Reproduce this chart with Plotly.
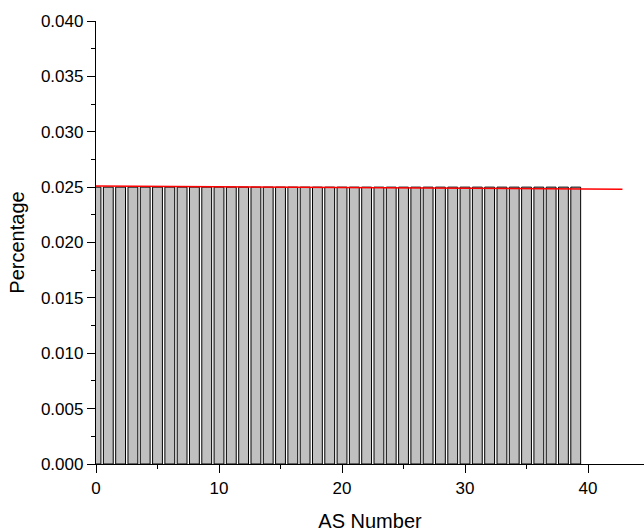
import plotly.graph_objects as go

# AS numbers and the share of each
as_number = [0, 1, 2, 3, 4, 5, 6, 7, 8, 9,
             10, 11, 12, 13, 14, 15, 16, 17, 18, 19,
             20, 21, 22, 23, 24, 25, 26, 27, 28, 29,
             30, 31, 32, 33, 34, 35, 36, 37, 38, 39]
percentage = [0.025, 0.025, 0.025, 0.025, 0.025, 0.025, 0.025, 0.025, 0.025, 0.025,
              0.025, 0.025, 0.025, 0.025, 0.025, 0.025, 0.025, 0.025, 0.025, 0.025,
              0.025, 0.025, 0.025, 0.025, 0.025, 0.025, 0.025, 0.025, 0.025, 0.025,
              0.025, 0.025, 0.025, 0.025, 0.025, 0.025, 0.025, 0.025, 0.025, 0.025]

# fitted trend line end points
fit_x = [0, 42.8]
fit_y = [0.02511, 0.02481]

x_ticks = [0, 10, 20, 30, 40]
y_ticks = [0.000, 0.005, 0.010, 0.015, 0.020, 0.025, 0.030, 0.035, 0.040]

fig = go.Figure()
fig.add_trace(go.Bar(
    x=as_number, y=percentage, width=0.8,
    marker=dict(color="#c0c0c0", line=dict(color="black", width=1)),
    showlegend=False,
))
fig.add_trace(go.Scatter(
    x=fit_x, y=fit_y, mode="lines",
    line=dict(color="#ff0000", width=1.5),
    showlegend=False,
))

family = "Liberation Sans, Arial, sans-serif"
fig.update_layout(
    width=644, height=532,
    margin=dict(l=96, r=0, t=21, b=68),
    plot_bgcolor="white", paper_bgcolor="white",
    font=dict(family=family, size=17, color="black"),
    xaxis=dict(
        range=[0, 44.55], tickvals=x_ticks, ticktext=[str(v) for v in x_ticks],
        showline=True, linecolor="black", linewidth=1.3,
        ticks="outside", ticklen=8, tickwidth=1.3, tickcolor="black",
        minor=dict(dtick=5, tick0=0, ticks="outside", ticklen=4, tickwidth=1.3, tickcolor="black"),
        showgrid=False, zeroline=False, automargin=False,
        title=dict(text="AS Number", standoff=17, font=dict(size=20)),
    ),
    yaxis=dict(
        range=[0, 0.040], tickvals=y_ticks, ticktext=[f"{v:.3f}" for v in y_ticks],
        showline=True, linecolor="black", linewidth=1.3,
        ticks="outside", ticklen=8, tickwidth=1.3, tickcolor="black",
        minor=dict(dtick=0.0025, tick0=0, ticks="outside", ticklen=4, tickwidth=1.3, tickcolor="black"),
        showgrid=False, zeroline=False, automargin=False,
        title=dict(text="Percentage", standoff=10, font=dict(size=20)),
    ),
)

fig.write_html("out.html")
